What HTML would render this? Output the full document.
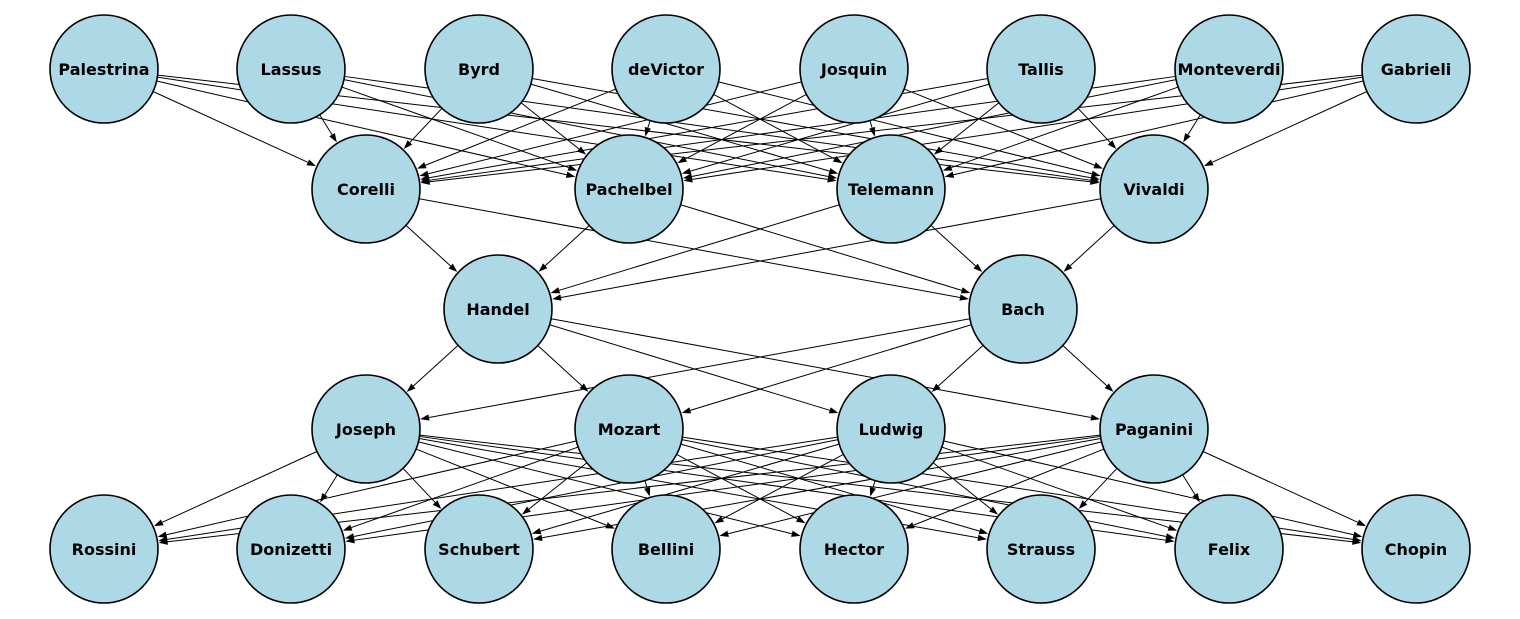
<!DOCTYPE html>
<html><head><meta charset="utf-8"><style>
html,body{margin:0;padding:0;background:#fff;}
svg{display:block;}
text{font-family:"DejaVu Sans","Liberation Sans",sans-serif;font-weight:bold;font-size:16px;}
</style></head><body>
<svg id="g" width="1520" height="619" viewBox="0 0 1520 619" xmlns="http://www.w3.org/2000/svg"></svg>
<script>
const N={};
const r1=["Palestrina","Lassus","Byrd","deVictor","Josquin","Tallis","Monteverdi","Gabrieli"];
const r5=["Rossini","Donizetti","Schubert","Bellini","Hector","Strauss","Felix","Chopin"];
const xs=[104,291,479,666,854,1041,1229,1416];
r1.forEach((n,i)=>N[n]=[xs[i],69]);
r5.forEach((n,i)=>N[n]=[xs[i],549]);
const r2=["Corelli","Pachelbel","Telemann","Vivaldi"],x4=[366,629,891,1154];
r2.forEach((n,i)=>N[n]=[x4[i],189]);
const r4=["Joseph","Mozart","Ludwig","Paganini"];
r4.forEach((n,i)=>N[n]=[x4[i],429]);
N.Handel=[498,309];N.Bach=[1023,309];
const E=[];
r1.forEach(a=>r2.forEach(b=>E.push([a,b])));
r2.forEach(a=>["Handel","Bach"].forEach(b=>E.push([a,b])));
["Handel","Bach"].forEach(a=>r4.forEach(b=>E.push([a,b])));
r4.forEach(a=>r5.forEach(b=>E.push([a,b])));
const R=54;let s="";
E.forEach(([a,b])=>{
 const [x1,y1]=N[a],[x2,y2]=N[b];const dx=x2-x1,dy=y2-y1,d=Math.hypot(dx,dy),ux=dx/d,uy=dy/d;
 const sx=x1+ux*R,sy=y1+uy*R,ex=x2-ux*(R+1),ey=y2-uy*(R+1);
 const L=9,W=3.2,bx=ex-ux*L,by=ey-uy*L;
 s+=`<line x1="${sx}" y1="${sy}" x2="${bx}" y2="${by}" stroke="#000" stroke-width="1"/>`;
 s+=`<polygon points="${ex},${ey} ${bx-uy*W},${by+ux*W} ${bx+uy*W},${by-ux*W}" fill="#000"/>`;
});
for(const n in N){const [x,y]=N[n];
 s+=`<circle cx="${x}" cy="${y}" r="${R}" fill="#add8e6" stroke="#000" stroke-width="1.6"/>`;
 s+=`<text x="${x}" y="${y+6}" text-anchor="middle">${n}</text>`;}
document.getElementById("g").innerHTML=s;
</script>
</body></html>
